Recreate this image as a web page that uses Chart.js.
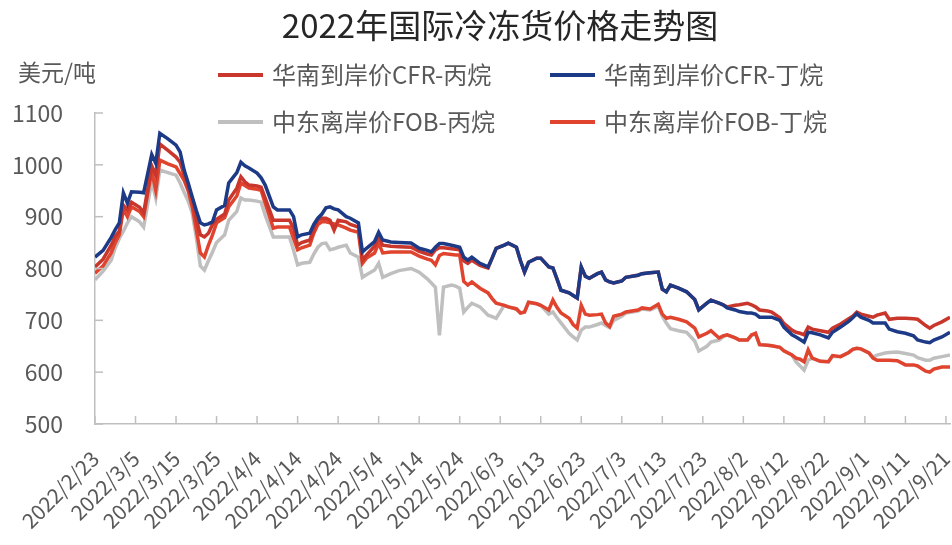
<!DOCTYPE html>
<html><head><meta charset="utf-8">
<script src="https://cdn.jsdelivr.net/npm/chart.js@4.4.1/dist/chart.umd.min.js"></script>
<style>html,body{margin:0;padding:0;background:#fff;}#wrap{width:952px;height:545px;}</style>
</head><body><div id="wrap"><canvas id="c" width="952" height="545"></canvas></div>
<script>
const titleText = '2022年国际冷冻货价格走势图';
const unitText = '美元/吨';
const seriesNames = ['华南到岸价CFR-丙烷', '华南到岸价CFR-丁烷', '中东离岸价FOB-丙烷', '中东离岸价FOB-丁烷'];
const tickDates = ['2/23','3/5','3/15','3/25','4/4','4/14','4/24','5/4','5/14','5/24','6/3','6/13','6/23','7/3','7/13','7/23','8/2','8/12','8/22','9/1','9/11','9/21'];
const yTicks = [500, 600, 700, 800, 900, 1000, 1100];

const dates = ['2/23','2/25','2/27','2/28','3/1','3/2','3/3','3/4','3/6','3/7','3/9','3/10','3/11','3/13','3/15','3/16','3/17','3/18','3/19','3/20','3/21','3/22','3/23','3/24','3/25','3/27','3/28','3/30','3/31','4/1','4/2','4/4','4/5','4/6','4/8','4/9','4/12','4/13','4/14','4/15','4/17','4/18','4/19','4/20','4/21','4/22','4/23','4/24','4/26','4/27','4/29','4/30','5/1','5/3','5/4','5/5','5/7','5/9','5/12','5/14','5/16','5/17','5/18','5/19','5/20','5/22','5/23','5/24','5/25','5/26','5/27','5/29','5/31','6/1','6/2','6/4','6/5','6/7','6/8','6/9','6/10','6/12','6/13','6/15','6/16','6/17','6/18','6/20','6/21','6/22','6/23','6/24','6/25','6/27','6/28','6/29','6/30','7/1','7/3','7/4','7/7','7/8','7/10','7/12','7/13','7/14','7/15','7/17','7/19','7/21','7/22','7/24','7/25','7/27','7/28','7/29','7/31','8/1','8/3','8/4','8/5','8/6','8/8','8/9','8/11','8/12','8/14','8/15','8/16','8/17','8/18','8/19','8/21','8/23','8/24','8/26','8/28','8/29','8/30','8/31','9/2','9/3','9/4','9/6','9/7','9/9','9/11','9/13','9/14','9/16','9/17','9/18','9/20','9/22'];

const cfrButane = [822,835,860,875,888,946,926,948,947,946,1020,1003,1061,1050,1038,1025,990,965,938,912,888,884,886,890,913,922,965,985,1005,998,994,984,975,961,919,913,913,900,861,865,868,885,897,905,917,919,915,913,900,897,888,832,839,852,870,855,851,850,849,839,835,832,841,848,848,845,843,841,822,816,822,810,803,820,839,845,849,841,815,793,812,820,820,803,801,780,758,753,748,743,803,785,781,790,793,778,774,772,776,783,787,790,792,793,760,755,768,762,755,740,720,733,739,733,730,724,720,717,714,714,712,706,706,706,700,687,672,668,663,658,677,676,672,666,677,687,698,705,713,706,700,695,695,695,683,678,675,670,662,658,657,662,668,677];

const cfrPropane = [803,818,845,862,872,922,913,928,918,907,998,980,1040,1028,1015,1005,980,955,935,895,865,861,868,885,895,905,932,955,977,967,961,959,957,936,893,893,893,878,845,850,855,875,893,897,897,893,874,893,890,885,880,816,826,843,861,845,843,842,841,833,828,826,836,840,840,838,837,836,815,810,816,806,801,820,839,845,849,841,815,793,812,820,820,803,801,780,758,753,748,743,803,785,781,790,793,778,774,772,776,783,787,790,792,793,760,755,768,762,755,740,720,733,739,733,730,726,729,730,733,730,726,720,718,716,705,694,681,677,675,672,687,683,680,677,685,693,703,708,716,712,708,706,710,714,702,704,704,703,702,690,685,690,697,706];

const fobPropane = [778,795,816,840,858,872,888,900,890,880,968,936,990,985,980,965,947,930,907,860,805,797,815,832,850,865,893,910,936,932,932,930,928,903,861,861,861,835,807,810,812,828,841,848,849,836,838,841,845,830,822,783,788,797,810,783,790,796,800,793,780,772,764,671,764,768,766,762,716,725,733,726,710,707,704,729,726,722,714,716,735,732,729,712,716,705,695,675,668,662,681,687,687,692,695,690,686,700,708,714,718,722,720,727,708,695,684,680,677,660,641,650,658,662,668,672,666,662,662,670,675,653,652,651,648,641,633,620,612,604,623,627,621,620,630,630,638,644,646,645,637,629,633,637,638,639,636,633,628,623,623,627,630,633];

const fobButane = [791,805,830,850,865,915,900,919,910,900,988,951,1009,1002,996,983,970,950,919,875,830,822,845,865,888,898,919,940,965,960,955,953,951,926,878,880,880,858,836,840,845,868,885,890,890,888,886,884,878,874,870,810,820,830,849,830,832,832,832,824,818,816,807,825,829,827,826,826,775,768,774,762,753,742,733,729,726,722,714,716,735,732,729,720,739,725,714,704,692,685,729,712,710,711,712,695,688,708,712,716,720,724,722,731,712,704,706,702,697,685,668,675,680,666,670,672,666,662,662,672,675,653,652,651,648,641,633,627,625,620,643,627,621,620,632,630,638,644,646,645,637,627,623,623,623,622,614,614,612,602,600,606,610,610];

const colors = ['#C9362C', '#1D3A86', '#BFBFBF', '#E0442F'];
const drawOrder = [1, 0, 3, 2];

function dayOf(s) {
  const p = s.split('/').map(Number);
  return Math.round((Date.UTC(2022, p[0] - 1, p[1]) - Date.UTC(2022, 1, 23)) / 86400000);
}
function labelOf(day) {
  const d = new Date(Date.UTC(2022, 1, 23) + day * 86400000);
  return '2022/' + (d.getUTCMonth() + 1) + '/' + d.getUTCDate();
}
const xs = dates.map(dayOf);
const allSeries = [cfrPropane, cfrButane, fobPropane, fobButane];
const datasets = allSeries.map((arr, i) => ({
  label: seriesNames[i],
  data: arr.map((v, k) => ({ x: xs[k], y: v })),
  borderColor: colors[i],
  backgroundColor: colors[i],
  borderWidth: 3.5,
  pointRadius: 0,
  tension: 0,
  fill: false,
  order: drawOrder[i]
}));

const FONT = '"Noto Sans CJK SC", "Noto Sans", sans-serif';
const overlay = {
  id: 'overlay',
  afterDraw(chart) {
    const ctx = chart.ctx, area = chart.chartArea;
    const sx = chart.scales.x, sy = chart.scales.y;
    ctx.save();
    ctx.strokeStyle = '#BFBFBF';
    ctx.lineWidth = 1.5;
    sx.ticks.forEach(t => {
      const px = sx.getPixelForValue(t.value);
      ctx.beginPath(); ctx.moveTo(px, area.bottom); ctx.lineTo(px, area.bottom - 8); ctx.stroke();
    });
    sy.ticks.forEach(t => {
      const py = sy.getPixelForValue(t.value);
      ctx.beginPath(); ctx.moveTo(area.left, py); ctx.lineTo(area.left + 8, py); ctx.stroke();
    });
    ctx.textBaseline = 'middle';
    ctx.fillStyle = '#262626';
    ctx.font = '33px ' + FONT;
    ctx.textAlign = 'center';
    ctx.fillText(titleText, 500, 25);
    ctx.fillStyle = '#595959';
    ctx.font = '23px ' + FONT;
    ctx.textAlign = 'left';
    ctx.fillText(unitText, 18, 72);
    const pos = [[218, 75], [550, 75], [218, 122], [550, 122]];
    chart.data.datasets.forEach((ds, i) => {
      const [x, y] = pos[i];
      ctx.strokeStyle = ds.borderColor;
      ctx.lineWidth = 4;
      ctx.beginPath(); ctx.moveTo(x, y); ctx.lineTo(x + 45, y); ctx.stroke();
      ctx.fillStyle = '#595959';
      ctx.font = '24px ' + FONT;
      ctx.fillText(ds.label, x + 54, y);
    });
    ctx.restore();
  }
};

new Chart(document.getElementById('c'), {
  type: 'line',
  data: { datasets },
  options: {
    responsive: false,
    animation: false,
    devicePixelRatio: 1,
    layout: { padding: { top: 113, right: 2, left: 0, bottom: 0 } },
    plugins: { legend: { display: false }, title: { display: false }, tooltip: { enabled: false } },
    scales: {
      x: {
        type: 'linear', min: 0, max: 211,
        afterBuildTicks: s => { s.ticks = tickDates.map(d => ({ value: dayOf(d) })); },
        afterFit: s => { s.height = 121; s.paddingRight = 0; s.paddingLeft = 0; },
        grid: { display: true, drawOnChartArea: false, drawTicks: false },
        border: { display: true, color: '#BFBFBF', width: 1.5 },
        ticks: {
          autoSkip: false, maxRotation: 45, minRotation: 45, padding: 22,
          color: '#595959', font: { size: 21, family: FONT },
          callback: v => labelOf(v)
        }
      },
      y: {
        min: 500, max: 1100,
        afterBuildTicks: s => { s.ticks = yTicks.map(v => ({ value: v })); },
        afterFit: s => { s.width = 95; },
        grid: { display: true, drawOnChartArea: false, drawTicks: false },
        border: { display: true, color: '#BFBFBF', width: 1.5 },
        ticks: { padding: 32, color: '#595959', font: { size: 23, family: FONT }, callback: v => String(v) }
      }
    }
  },
  plugins: [overlay]
});
</script></body></html>
